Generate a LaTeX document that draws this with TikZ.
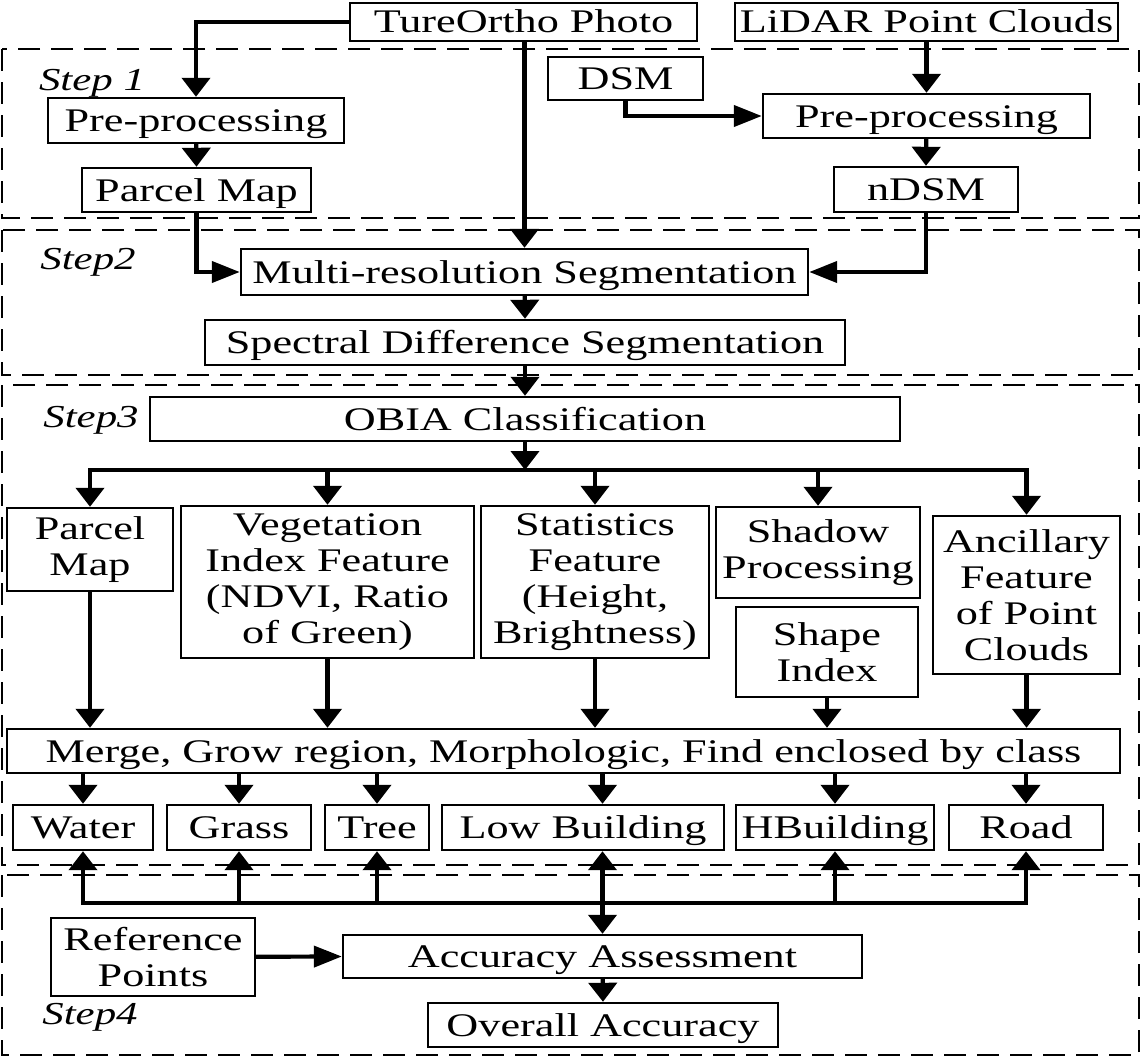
\documentclass[tikz,border=0pt]{standalone}
\usepackage{fontspec}
\setmainfont{Liberation Serif}[FakeStretch=1.34]
\usetikzlibrary{arrows.meta}
\begin{document}
\begin{tikzpicture}[x=1pt,y=-1pt,
  procbox/.style={draw, line width=2.4pt, inner sep=0pt, align=center,
    font=\fontsize{33}{36}\selectfont},
  oneline/.style={procbox, text height=22pt, text depth=0pt},
  conn/.style={line width=4.2pt},
  varr/.style={conn, -{Triangle[length=19pt,width=28pt]}},
  harr/.style={conn, -{Triangle[length=28pt,width=21pt]}},
  stage/.style={draw, line width=2.2pt, dash pattern=on 22pt off 11pt},
  steplabel/.style={font=\fontsize{32}{36}\selectfont\itshape, inner sep=0pt}]
\useasboundingbox (0,0) rectangle (1142,1057);

% stage frames
\draw[stage] (2,49) rectangle (1139,218);
\draw[stage] (2,230) rectangle (1139,375);
\draw[stage] (2,385) rectangle (1139,865);
\draw[stage] (2,875) rectangle (1139,1055);

\node[steplabel] (s1) at (92,83) {Step 1};
\node[steplabel] (s2) at (88,262) {Step2};
\node[steplabel] (s3) at (91,420) {Step3};
\node[steplabel] (s4) at (90,1017) {Step4};

% inputs and step 1
\node[oneline, minimum width=347pt, minimum height=38pt] (ortho) at (523.5,22) {TureOrtho Photo};
\node[oneline, minimum width=383pt, minimum height=38pt] (lidar) at (926.5,22) {LiDAR Point Clouds};
\node[oneline, minimum width=296pt, minimum height=45pt] (pre1) at (196,120.5) {Pre-processing};
\node[oneline, minimum width=155pt, minimum height=43pt] (dsm) at (625.5,78.5) {DSM};
\node[oneline, minimum width=327pt, minimum height=44pt] (pre2) at (926.5,116) {Pre-processing};
\node[oneline, minimum width=229pt, minimum height=44pt] (pmap1) at (196.5,190) {Parcel Map};
\node[oneline, minimum width=184pt, minimum height=45pt] (ndsm) at (926,189.5) {nDSM};

% step 2
\node[oneline, minimum width=567pt, minimum height=46pt] (multi) at (524.5,272) {Multi-resolution Segmentation};
\node[oneline, minimum width=640pt, minimum height=45pt] (spec) at (525,342.5) {Spectral Difference Segmentation};

% step 3
\node[oneline, minimum width=750pt, minimum height=44pt] (obia) at (525,419) {OBIA Classification};
\node[procbox, minimum width=166pt, minimum height=83pt] (pmap2) at (90,549.5) {Parcel\\Map};
\node[procbox, minimum width=293pt, minimum height=152pt] (veg) at (327.5,582) {Vegetation\\Index Feature\\(NDVI, Ratio\\of Green)};
\node[procbox, minimum width=228pt, minimum height=152pt] (stat) at (595,582) {Statistics\\Feature\\(Height,\\Brightness)};
\node[procbox, minimum width=204pt, minimum height=91pt] (shadow) at (818,552.5) {Shadow\\Processing};
\node[procbox, minimum width=182pt, minimum height=90pt] (shape) at (827,652) {Shape\\Index};
\node[procbox, minimum width=187pt, minimum height=158pt] (anc) at (1026.5,595) {Ancillary\\Feature\\of Point\\Clouds};
\node[oneline, minimum width=1113pt, minimum height=44pt] (merge) at (563.5,751) {Merge, Grow region, Morphologic, Find enclosed by class};
\node[oneline, minimum width=140pt, minimum height=45pt] (water) at (83,827.5) {Water};
\node[oneline, minimum width=144pt, minimum height=45pt] (grass) at (239,827.5) {Grass};
\node[oneline, minimum width=104pt, minimum height=45pt] (tree) at (377,827.5) {Tree};
\node[oneline, minimum width=282pt, minimum height=45pt] (lowb) at (583,827.5) {Low Building};
\node[oneline, minimum width=198pt, minimum height=45pt] (hbuild) at (835,827.5) {HBuilding};
\node[oneline, minimum width=154pt, minimum height=45pt] (road) at (1026,827.5) {Road};

% step 4
\node[procbox, minimum width=204pt, minimum height=78pt] (ref) at (153,957) {Reference\\Points};
\node[oneline, minimum width=519pt, minimum height=43pt] (acc) at (602.5,956.5) {Accuracy Assessment};
\node[oneline, minimum width=350pt, minimum height=44pt] (overall) at (603,1025) {Overall Accuracy};

\coordinate (bus) at (0,470);
\coordinate (bustwo) at (0,903);

% step 1 connectors
\draw[varr] (ortho.west) -| (pre1.north);
\draw[varr] (lidar) -- (pre2.north);
\draw[varr] (pre1) -- (pmap1.north);
\draw[harr] (dsm.south) |- (pre2.west);
\draw[varr] (pre2) -- (ndsm.north);

% step 2 connectors
\draw[varr] (ortho.south -| multi.north) -- (multi.north);
\draw[harr] (pmap1.south) |- (multi.west);
\draw[harr] (ndsm.south) |- (multi.east);
\draw[varr] (multi) -- (spec.north);
\draw[varr] (spec) -- (obia.north);

% step 3 connectors
\draw[varr] (obia) -- (obia.south |- bus);
\draw[varr] (obia.south |- bus) -| (pmap2.north);
\draw[varr] (obia.south |- bus) -| (anc.north);
\draw[varr] (veg.north |- bus) -- (veg.north);
\draw[varr] (stat.north |- bus) -- (stat.north);
\draw[varr] (shadow.north |- bus) -- (shadow.north);

\draw[varr] (pmap2) -- (pmap2.south |- merge.north);
\draw[varr] (veg) -- (veg.south |- merge.north);
\draw[varr] (stat) -- (stat.south |- merge.north);
\draw[varr] (shape) -- (shape.south |- merge.north);
\draw[varr] (anc) -- (anc.south |- merge.north);

\draw[varr] (water.north |- merge.south) -- (water.north);
\draw[varr] (grass.north |- merge.south) -- (grass.north);
\draw[varr] (tree.north |- merge.south) -- (tree.north);
\draw[varr] (acc.north |- merge.south) -- (acc.north |- lowb.north);
\draw[varr] (hbuild.north |- merge.south) -- (hbuild.north);
\draw[varr] (road.north |- merge.south) -- (road.north);

% step 4 connectors
\draw[varr] (acc.north |- bustwo) -| (water.south);
\draw[varr] (acc.north |- bustwo) -| (road.south);
\draw[varr] (acc.north |- bustwo) -- (acc.north |- lowb.south);
\draw[varr] (acc.north |- bustwo) -- (acc.north);
\draw[varr] (grass.south |- bustwo) -- (grass.south);
\draw[varr] (tree.south |- bustwo) -- (tree.south);
\draw[varr] (hbuild.south |- bustwo) -- (hbuild.south);
\draw[harr] (ref) -- (acc.west);
\draw[varr] (acc) -- (overall.north);
\end{tikzpicture}
\end{document}
